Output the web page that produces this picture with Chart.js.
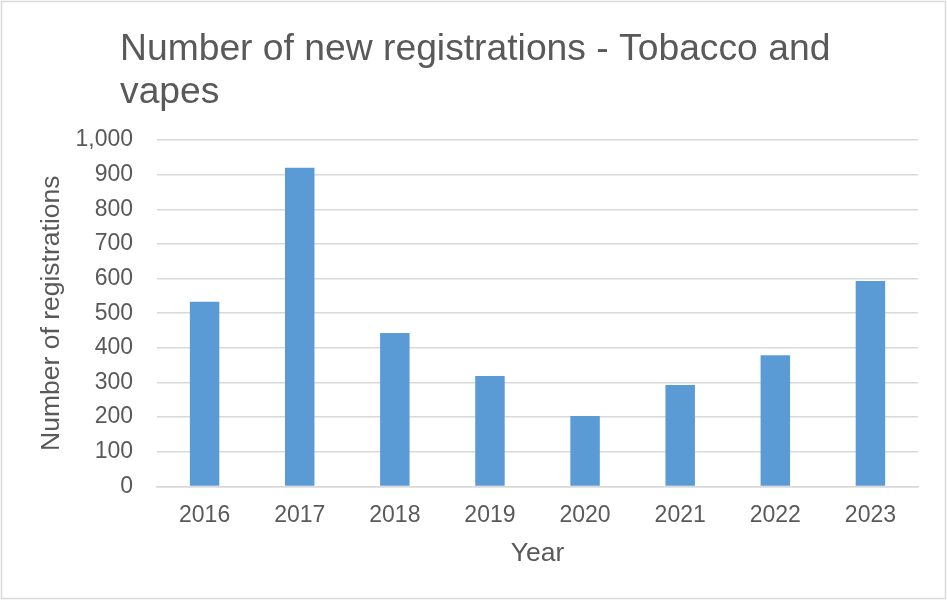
<!DOCTYPE html>
<html><head><meta charset="utf-8">
<script src="https://cdn.jsdelivr.net/npm/chart.js@4/dist/chart.umd.min.js"></script>
<style>html,body{margin:0;padding:0;background:#fff}#w{width:947px;height:601px;position:relative}</style>
</head><body><div id="w"><canvas id="c"></canvas></div>
<script>
const years = ["2016","2017","2018","2019","2020","2021","2022","2023"];
const registrations = [533, 920, 443, 319, 203, 293, 379, 593];
const titleLines = ["Number of new registrations - Tobacco and", "vapes"];
const yTitle = "Number of registrations";
const xTitle = "Year";
const FONT = "'Liberation Sans', Arial, sans-serif";
const GREY = "#595959";

const deco = {
  id: 'deco',
  afterDraw(chart) {
    const ctx = chart.ctx;
    ctx.save();
    ctx.strokeStyle = '#d9d9d9';
    ctx.lineWidth = 1.5;
    ctx.strokeRect(1.5, 1.5, 944, 597);
    ctx.fillStyle = GREY;
    ctx.font = "36px " + FONT;
    ctx.textBaseline = 'alphabetic';
    ctx.textAlign = 'left';
    ctx.translate(120, 0);
    ctx.scale(1.035, 1);
    titleLines.forEach((t, i) => ctx.fillText(t, 0, 60 + i * 43));
    ctx.restore();
  }
};

new Chart(document.getElementById('c'), {
  type: 'bar',
  data: { labels: years, datasets: [{ data: registrations, backgroundColor: '#5B9BD5', barPercentage: 0.31, categoryPercentage: 1 }] },
  options: {
    responsive: true, maintainAspectRatio: false, animation: false,
    layout: { padding: { top: 140, right: 29, bottom: 37.1, left: 50 } },
    plugins: { legend: { display: false }, tooltip: { enabled: false } },
    scales: {
      x: {
        grid: { display: false, drawTicks: false },
        border: { color: '#d9d9d9', width: 1.5 },
        ticks: { color: GREY, font: { family: FONT, size: 23 }, padding: 15 },
        title: { display: true, text: xTitle, color: GREY, font: { family: FONT, size: 26.5, lineHeight: 0.75 }, padding: { top: 0, bottom: 0 } }
      },
      y: {
        min: 0, max: 1000,
        grid: { color: '#d9d9d9', lineWidth: 1.5, drawTicks: false },
        border: { display: false },
        ticks: { stepSize: 100, color: GREY, font: { family: FONT, size: 23 }, padding: 24 },
        title: { display: true, text: yTitle, color: GREY, font: { family: FONT, size: 26.5, lineHeight: 0.15 }, padding: { top: 0, bottom: -2.5 } }
      }
    }
  },
  plugins: [deco]
});
</script></body></html>
